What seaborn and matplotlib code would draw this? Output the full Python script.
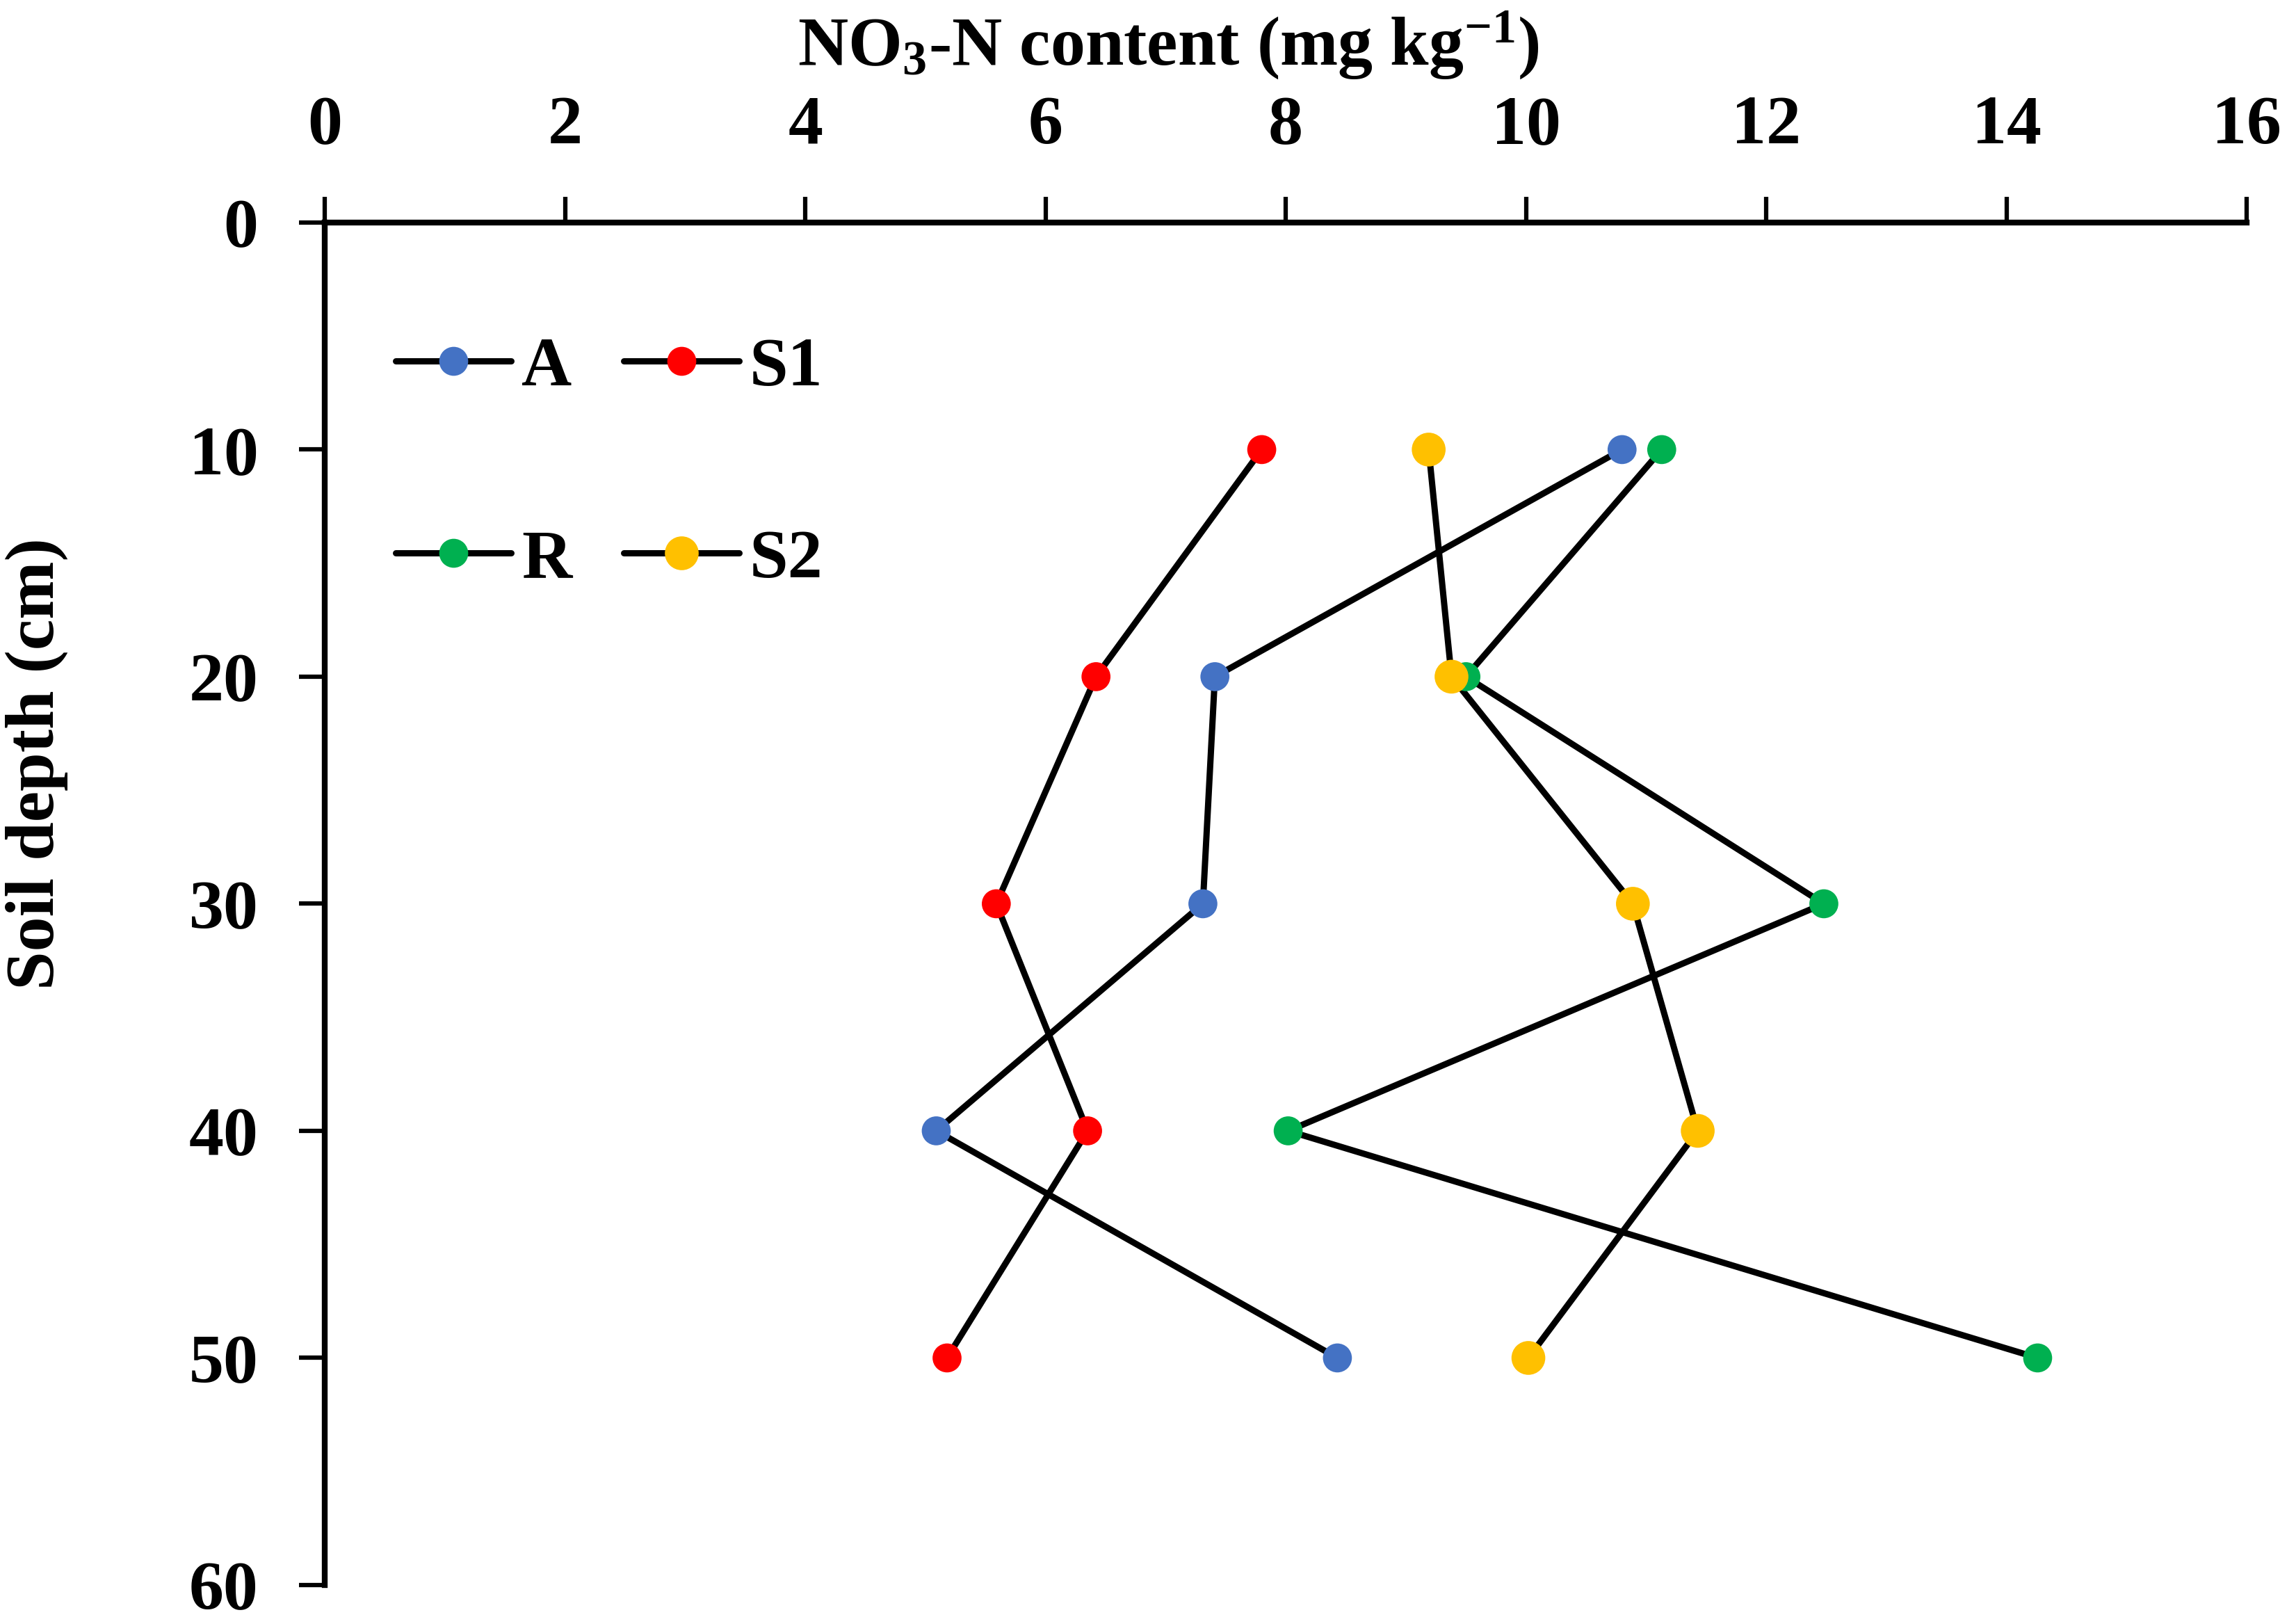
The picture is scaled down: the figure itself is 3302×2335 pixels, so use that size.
import pandas as pd
import numpy as np
import matplotlib
matplotlib.use('Agg')
import matplotlib.pyplot as plt
from matplotlib.lines import Line2D
import seaborn as sns

#######################################
# data
#######################################
depth = [10, 20, 30, 40, 50]
treatments = ['A', 'S1', 'R', 'S2']
no3_A = [10.80, 7.41, 7.31, 5.09, 8.43]
no3_S1 = [7.80, 6.42, 5.59, 6.35, 5.18]
no3_R = [11.13, 9.50, 12.48, 8.02, 14.26]
no3_S2 = [9.19, 9.38, 10.89, 11.43, 10.02]
colors = {'A': '#4472C4', 'S1': '#FF0000', 'R': '#00B050', 'S2': '#FFC000'}
x_ticks = list(range(0, 17, 2))
y_ticks = list(range(0, 61, 10))

df = pd.DataFrame({
    'depth': depth * 4,
    'no3': no3_A + no3_S1 + no3_R + no3_S2,
    'treat': ['A'] * 5 + ['S1'] * 5 + ['R'] * 5 + ['S2'] * 5,
})

#######################################
# style
#######################################
sns.set_style('white')
plt.rcParams['font.family'] = ['Liberation Serif', 'DejaVu Serif']
plt.rcParams['font.weight'] = 'bold'
plt.rcParams['mathtext.fontset'] = 'custom'
plt.rcParams['mathtext.rm'] = 'Liberation Serif:bold'
plt.rcParams['mathtext.bf'] = 'Liberation Serif:bold'
plt.rcParams['mathtext.it'] = 'Liberation Serif:bold:italic'
plt.rcParams['mathtext.default'] = 'rm'
for k in ['text.color', 'axes.labelcolor', 'xtick.color', 'ytick.color']:
    plt.rcParams[k] = 'black'

fs = 72
lw = 6.5
fig = plt.figure(figsize=(33.02, 23.35), dpi=100)
ax = fig.add_axes([0.1415, 0.024, 0.837, 0.839])

# lines (black) then coloured markers
sns.lineplot(data=df, x='no3', y='depth', hue='treat', units='treat',
             estimator=None, orient='y', sort=False,
             palette={t: 'black' for t in treatments},
             linewidth=lw, legend=False, ax=ax, zorder=2)
for t in ['A', 'R', 'S1', 'S2']:
    sub = df[df['treat'] == t]
    ms = 35 if t == 'S2' else 30
    sns.scatterplot(data=sub, x='no3', y='depth', color=colors[t], s=ms ** 2,
                    edgecolor='none', linewidth=0, ax=ax, zorder=3,
                    legend=False, clip_on=False)

ax.set_xlim(0, 16)
ax.set_ylim(60, 0)
ax.set_xticks(x_ticks)
ax.set_yticks(y_ticks)
ax.xaxis.tick_top()
ax.xaxis.set_label_position('top')
ax.tick_params(axis='x', direction='out', length=27, width=4.5, pad=40,
               labelsize=fs, top=True, bottom=False)
ax.tick_params(axis='y', direction='out', length=27, width=4.5, pad=42,
               labelsize=fs, left=True)
for lab in ax.get_xticklabels() + ax.get_yticklabels():
    lab.set_fontweight('bold')

for s in ['right', 'bottom']:
    ax.spines[s].set_visible(False)
for s in ['top', 'left']:
    ax.spines[s].set_linewidth(6)
    ax.spines[s].set_color('black')

ax.set_xlabel('NO$_3$-N content (mg kg$^{-1}$)', fontsize=fs, fontweight='bold')
ax.set_ylabel('Soil depth (cm)', fontsize=fs, fontweight='bold')
ax.xaxis.set_label_coords(0.4388, 1.116)
ax.yaxis.set_label_coords(-0.1336, 0.603)

handles = [Line2D([0], [0], color='black', lw=lw, marker='o',
                  solid_capstyle='round',
                  markersize=(35 if t == 'S2' else 30),
                  markerfacecolor=colors[t], markeredgewidth=0)
           for t in ['A', 'R', 'S1', 'S2']]
ax.legend(handles, ['A', 'R', 'S1', 'S2'], ncol=2, frameon=False,
          loc='upper left', bbox_to_anchor=(0.037, 0.916),
          prop={'size': fs, 'weight': 'bold', 'family': 'Liberation Serif'},
          handlelength=1.66, handletextpad=0.15, columnspacing=0.74,
          labelspacing=1.85, borderpad=0, borderaxespad=0)

fig.savefig('out.png', dpi=100)
